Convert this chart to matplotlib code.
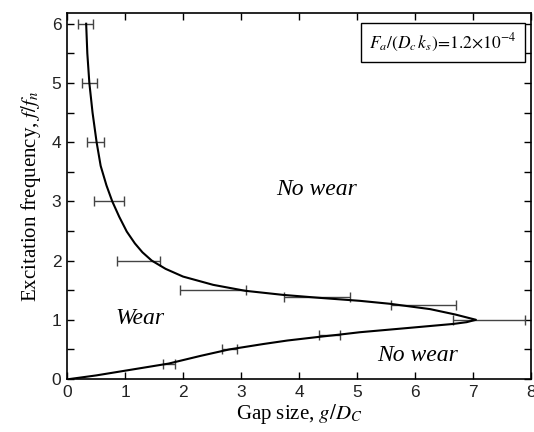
import numpy as np
import matplotlib
matplotlib.use("Agg")
import matplotlib.pyplot as plt
from matplotlib.ticker import MultipleLocator

# boundary curve: upper branch top -> tip -> lower branch
upper_x = [0.33, 0.35, 0.385, 0.44, 0.51, 0.58, 0.68, 0.78, 0.90, 1.03, 1.17,
           1.30, 1.46, 1.70, 2.00, 2.52, 3.07, 3.73, 4.36, 5.05, 5.57, 6.26,
           6.69, 6.89, 7.05]
upper_y = [6.00, 5.50, 5.00, 4.50, 4.00, 3.60, 3.27, 3.00, 2.74, 2.49, 2.29,
           2.14, 2.00, 1.86, 1.73, 1.59, 1.49, 1.42, 1.37, 1.32, 1.27, 1.18,
           1.09, 1.04, 1.00]
lower_x = [6.89, 6.66, 5.86, 5.05, 4.70, 4.33, 3.80, 3.38, 2.80, 2.30, 1.75,
           1.00, 0.50, 0.05]
lower_y = [0.96, 0.93, 0.86, 0.79, 0.75, 0.71, 0.65, 0.59, 0.50, 0.39, 0.26,
           0.14, 0.06, 0.00]

# horizontal error bars: frequency and gap range
bar_y = [6.0, 5.0, 4.0, 3.0, 2.0, 1.5, 1.38, 1.25, 1.0, 0.75, 0.5, 0.25]
bar_lo = [0.19, 0.25, 0.34, 0.47, 0.87, 1.95, 3.74, 5.58, 6.65, 4.34, 2.68, 1.65]
bar_hi = [0.45, 0.51, 0.63, 0.99, 1.61, 3.08, 4.88, 6.70, 7.89, 4.71, 2.93, 1.87]

plt.rcParams.update({"font.family": "Liberation Sans", "mathtext.fontset": "stix",
                     "font.size": 12})
serif = "Liberation Serif"

fig = plt.figure(figsize=(5.34, 4.32), dpi=100)
ax = fig.add_axes([0.1255, 0.1227, 0.869, 0.847])

lo = np.array(bar_lo); hi = np.array(bar_hi)
ax.errorbar((lo + hi) / 2, bar_y, xerr=(hi - lo) / 2, fmt="none",
            ecolor="#444444", elinewidth=1.0, capsize=3.5, capthick=1.0, zorder=2)

ax.plot(upper_x + lower_x, upper_y + lower_y, color="black", lw=1.5, zorder=3)

ax.set_xlim(0, 8)
ax.set_ylim(0, 6.18)
ax.xaxis.set_major_locator(MultipleLocator(1))
ax.yaxis.set_major_locator(MultipleLocator(1))
ax.yaxis.set_minor_locator(MultipleLocator(0.5))
ax.tick_params(which="both", direction="in", top=True, right=True,
               length=5, width=1.0, labelsize=12.5, pad=4, labelcolor="#222222")
ax.tick_params(which="minor", top=False, bottom=False)
for s in ax.spines.values():
    s.set_linewidth(1.2)

ax.set_xlabel("Gap size, $g/D_C$", family=serif, fontsize=15, labelpad=2)
ax.set_ylabel("Excitation frequency, $f/f_n$", family=serif, fontsize=15,
              labelpad=6)

ax.text(4.31, 3.2, "No wear", family=serif, style="italic", fontsize=17,
        ha="center", va="center")
ax.text(6.04, 0.4, "No wear", family=serif, style="italic", fontsize=17,
        ha="center", va="center")
ax.text(1.26, 1.03, "Wear", family=serif, style="italic", fontsize=17,
        ha="center", va="center")

ax.text(6.48, 5.68, r"$F_a/(D_c\,k_s)\!=\!1.2{\times}10^{-4}$", fontsize=12.5,
        ha="center", va="center",
        bbox=dict(boxstyle="square,pad=0.5", fc="white", ec="black", lw=1.0))

fig.savefig("out.png", dpi=100)
